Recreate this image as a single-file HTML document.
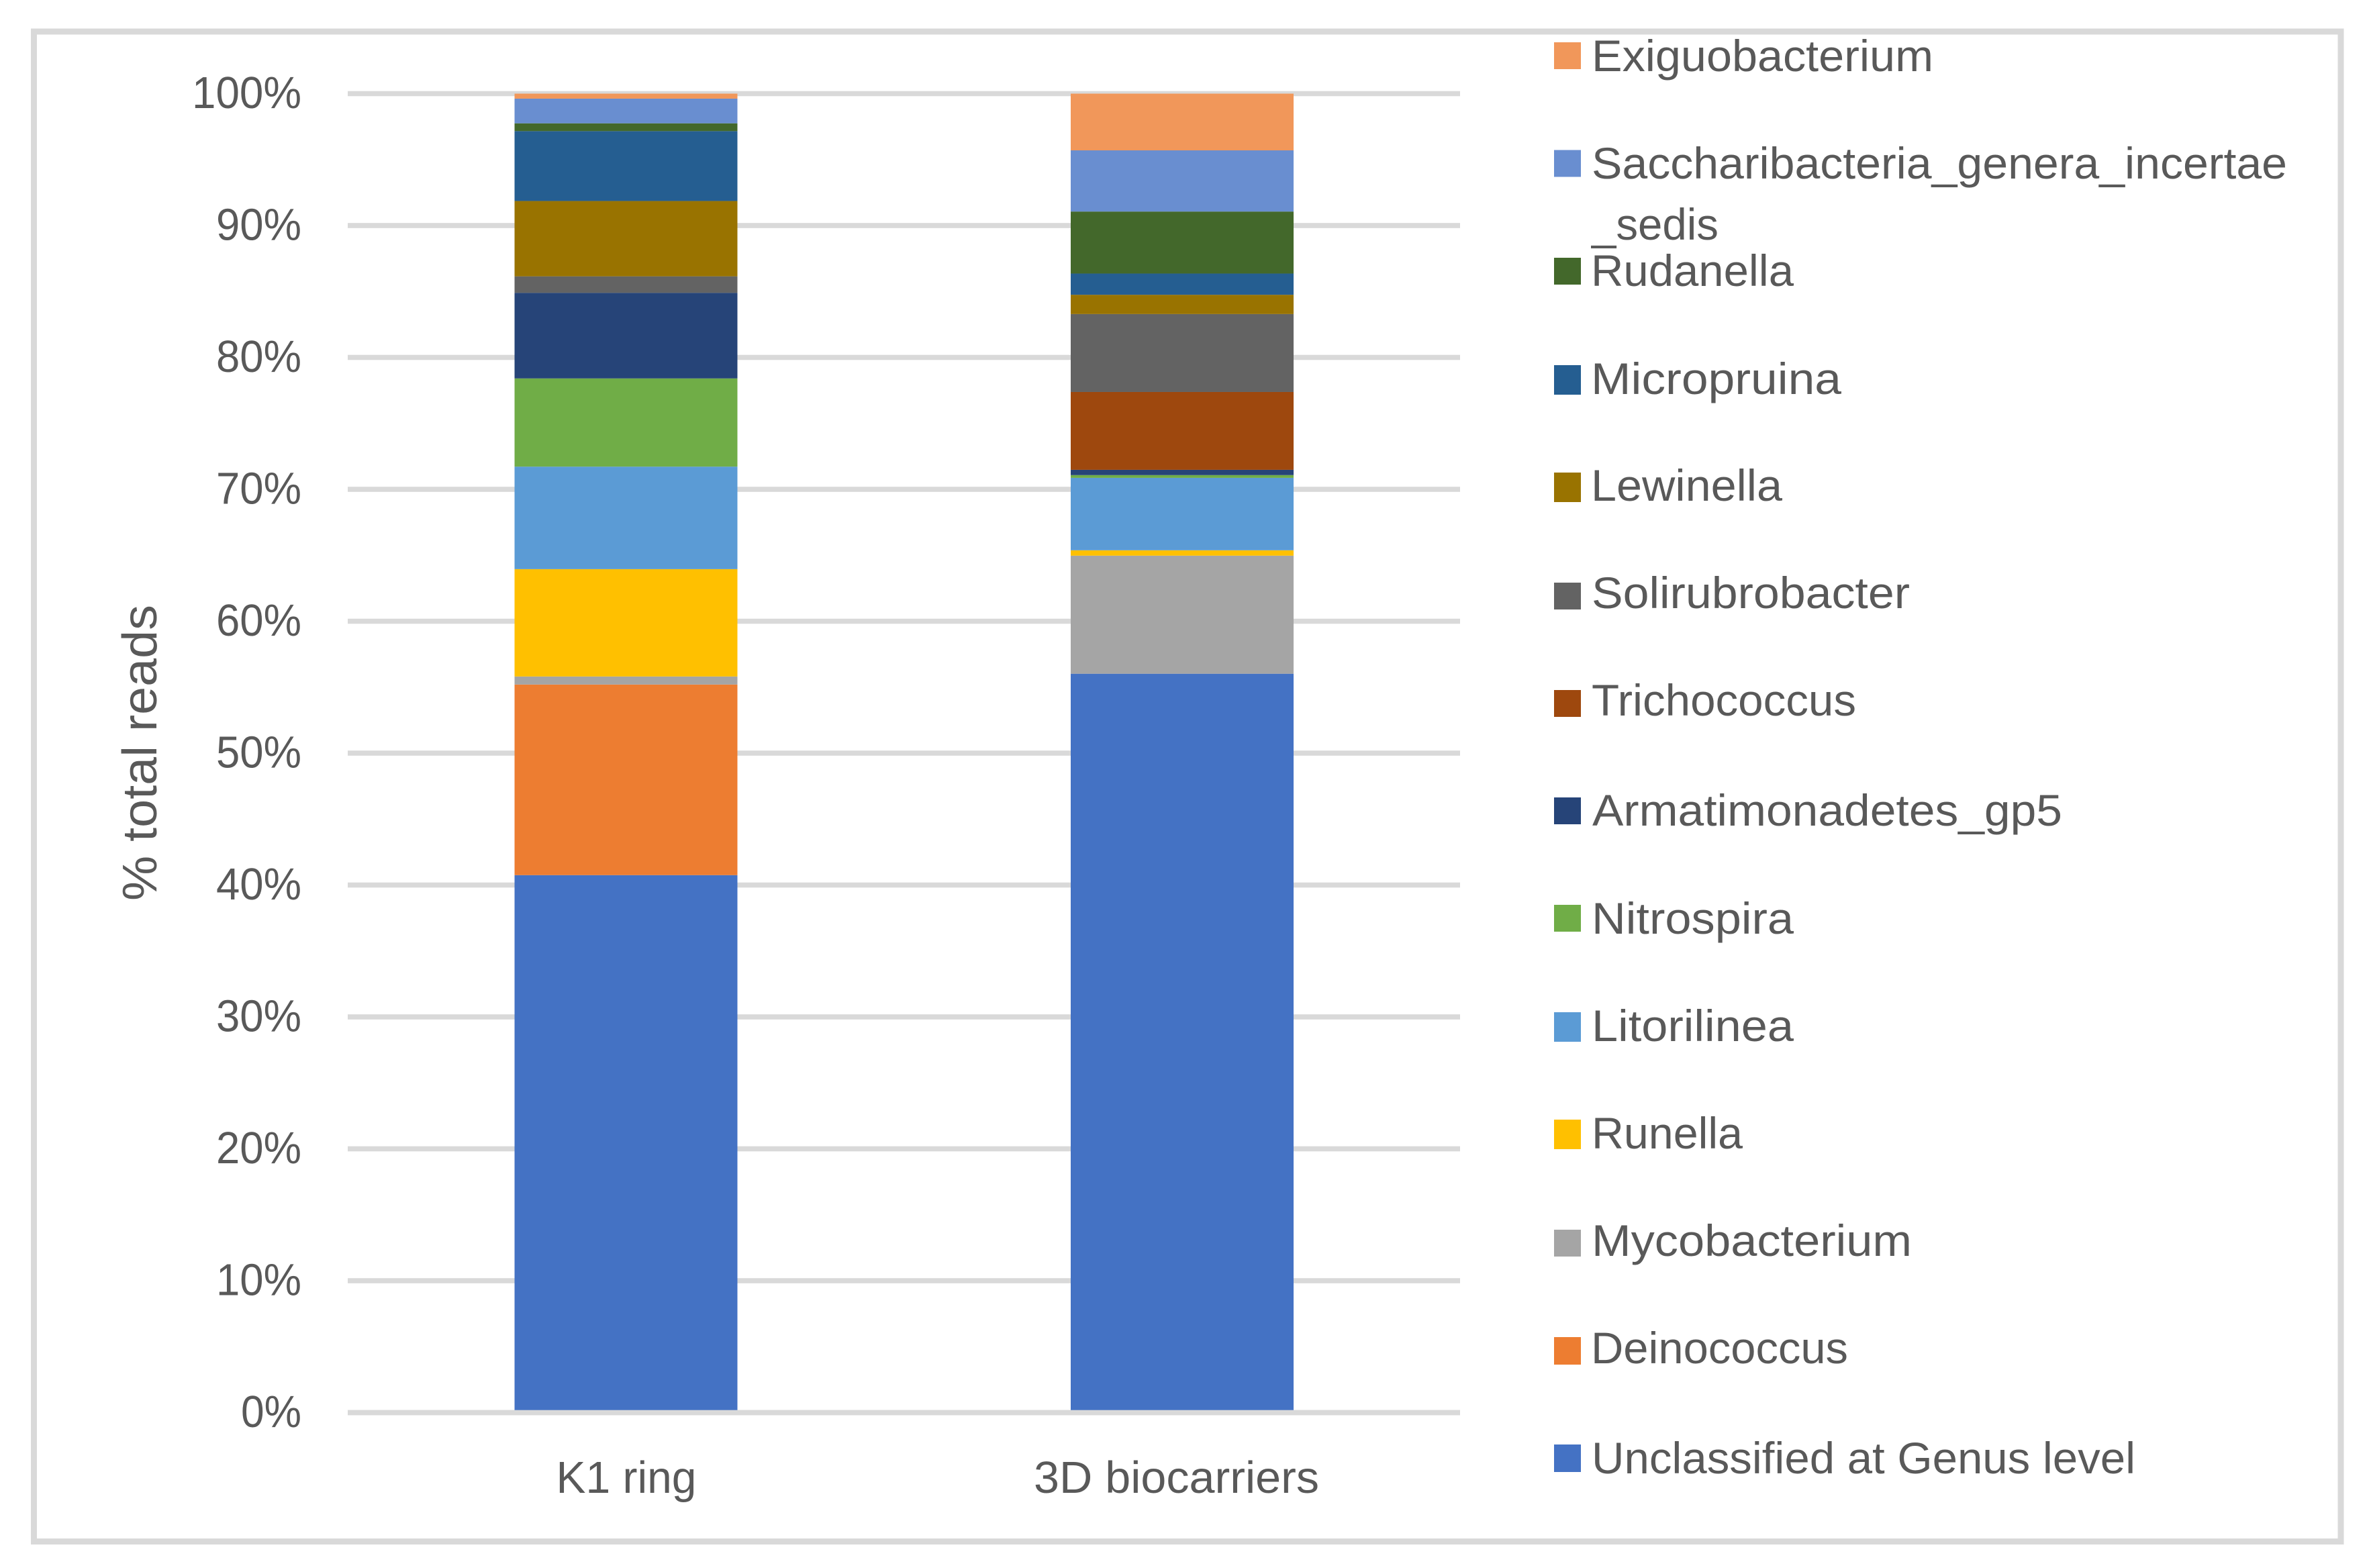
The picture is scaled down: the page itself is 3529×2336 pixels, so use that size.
<!DOCTYPE html>
<html lang="en">
<head>
<meta charset="utf-8">
<title>% total reads by genus: K1 ring vs 3D biocarriers</title>
<style>
  html, body { margin: 0; padding: 0; background: #ffffff; }
  svg { display: block; }
  text { font-family: "Liberation Sans", sans-serif; fill: #595959; }
</style>
</head>
<body>
<svg id="chart" xmlns="http://www.w3.org/2000/svg" width="3529" height="2336" viewBox="0 0 3529 2336">
  <rect x="0" y="0" width="3529" height="2336" fill="#ffffff"/>
  <rect x="50.5" y="47" width="3436.5" height="2249.5" fill="#ffffff" stroke="#d9d9d9" stroke-width="9"/>
  <g id="grid"></g>
  <g id="bars"></g>
  <g id="axis"></g>
  <text transform="translate(233 1342) rotate(-90)" font-size="72" textLength="441" lengthAdjust="spacingAndGlyphs">% total reads</text>

  <g font-size="66">
    <g>
      <rect x="2315" y="63" width="40" height="40" fill="#F1975A"/>
      <text x="2371" y="106" textLength="509" lengthAdjust="spacingAndGlyphs">Exiguobacterium</text>
    </g>
    <g>
      <rect x="2315" y="223.5" width="40" height="40" fill="#698ED0"/>
      <text x="2371" y="266" textLength="1036" lengthAdjust="spacingAndGlyphs">Saccharibacteria_genera_incertae</text>
      <text x="2371" y="357" textLength="189" lengthAdjust="spacingAndGlyphs">_sedis</text>
    </g>
    <g>
      <rect x="2315" y="384" width="40" height="40" fill="#43682B"/>
      <text x="2370" y="426" textLength="302" lengthAdjust="spacingAndGlyphs">Rudanella</text>
    </g>
    <g>
      <rect x="2315" y="544" width="40" height="44" fill="#255E91"/>
      <text x="2370" y="587" textLength="373" lengthAdjust="spacingAndGlyphs">Micropruina</text>
    </g>
    <g>
      <rect x="2315" y="704" width="40" height="44" fill="#997300"/>
      <text x="2370" y="746" textLength="285" lengthAdjust="spacingAndGlyphs">Lewinella</text>
    </g>
    <g>
      <rect x="2315" y="868" width="40" height="40" fill="#636363"/>
      <text x="2371" y="906" textLength="474" lengthAdjust="spacingAndGlyphs">Solirubrobacter</text>
    </g>
    <g>
      <rect x="2315" y="1028" width="40" height="40" fill="#9E480E"/>
      <text x="2371" y="1066" textLength="394" lengthAdjust="spacingAndGlyphs">Trichococcus</text>
    </g>
    <g>
      <rect x="2315" y="1188" width="40" height="40" fill="#264478"/>
      <text x="2372" y="1230" textLength="700" lengthAdjust="spacingAndGlyphs">Armatimonadetes_gp5</text>
    </g>
    <g>
      <rect x="2315" y="1348" width="40" height="40" fill="#70AD47"/>
      <text x="2371" y="1391" textLength="301" lengthAdjust="spacingAndGlyphs">Nitrospira</text>
    </g>
    <g>
      <rect x="2315" y="1508" width="40" height="44" fill="#5B9BD5"/>
      <text x="2371" y="1551" textLength="301" lengthAdjust="spacingAndGlyphs">Litorilinea</text>
    </g>
    <g>
      <rect x="2315" y="1668" width="40" height="44" fill="#FFC000"/>
      <text x="2371" y="1711" textLength="225" lengthAdjust="spacingAndGlyphs">Runella</text>
    </g>
    <g>
      <rect x="2315" y="1832" width="40" height="40" fill="#A5A5A5"/>
      <text x="2371" y="1871" textLength="477" lengthAdjust="spacingAndGlyphs">Mycobacterium</text>
    </g>
    <g>
      <rect x="2315" y="1992" width="40" height="41" fill="#ED7D31"/>
      <text x="2370" y="2031" textLength="383" lengthAdjust="spacingAndGlyphs">Deinococcus</text>
    </g>
    <g>
      <rect x="2315" y="2152" width="40" height="41" fill="#4472C4"/>
      <text x="2371" y="2195" textLength="810" lengthAdjust="spacingAndGlyphs">Unclassified at Genus level</text>
    </g>
  </g>
</svg>
<script>
// Chart data (percent of total reads, stacked bottom to top)
var categories = ['K1 ring', '3D biocarriers'];
var seriesNames = ['Unclassified at Genus level', 'Deinococcus', 'Mycobacterium', 'Runella', 'Litorilinea', 'Nitrospira', 'Armatimonadetes_gp5', 'Trichococcus', 'Solirubrobacter', 'Lewinella', 'Micropruina', 'Rudanella', 'Saccharibacteria_genera_incertae_sedis', 'Exiguobacterium'];
var k1RingValues = [40.75, 14.45, 0.61, 8.14, 7.77, 6.69, 6.49, 0, 1.25, 5.71, 5.30, 0.59, 1.87, 0.38];
var biocarrierValues = [56.02, 0, 8.95, 0.41, 5.49, 0.21, 0.40, 5.90, 5.91, 1.46, 1.61, 4.70, 4.64, 4.30];
var seriesColors = ['#4472C4', '#ED7D31', '#A5A5A5', '#FFC000', '#5B9BD5', '#70AD47', '#264478', '#9E480E', '#636363', '#997300', '#255E91', '#43682B', '#698ED0', '#F1975A'];
var tickValues = [0, 10, 20, 30, 40, 50, 60, 70, 80, 90, 100];
var tickLabels = ['0%', '10%', '20%', '30%', '40%', '50%', '60%', '70%', '80%', '90%', '100%'];

var NS = 'http://www.w3.org/2000/svg';
var gridLayer = document.getElementById('grid');
var barLayer = document.getElementById('bars');
var axisLayer = document.getElementById('axis');

// Axis functions
function yScale(v) {
  var yTop = 139.5, yBottom = 2104.5;
  return yBottom + (yTop - yBottom) * (v / 100);
}
function xBand(i) {
  var firstLeft = 766.5, step = 828.5;
  return firstLeft + i * step;
}
var barWidth = 332;
var plotLeft = 518, plotRight = 2175;

function make(tag, attrs) {
  var el = document.createElementNS(NS, tag);
  for (var k in attrs) { el.setAttribute(k, attrs[k]); }
  return el;
}

// Gridlines and y tick labels
tickValues.forEach(function (v, i) {
  var line = make('rect', { x: plotLeft, y: yScale(v) - 3.8, width: plotRight - plotLeft, height: 7.6, fill: '#d9d9d9' });
  
  
  gridLayer.appendChild(line);

  var label = tickLabels[i];
  var w = label.length === 4 ? 163 : (label.length === 3 ? 127 : 90);
  var t = make('text', { x: 449 - w, y: yScale(v) + 21.5, 'font-size': 67, textLength: w, lengthAdjust: 'spacingAndGlyphs' });
  
  
  t.textContent = label;
  axisLayer.appendChild(t);
});

// Stacked bars
[k1RingValues, biocarrierValues].forEach(function (values, c) {
  var cum = 0;
  values.forEach(function (val, s) {
    var y0 = yScale(cum);
    var y1 = yScale(cum + val);
    cum += val;
    if (val <= 0) { return; }
    var seg = make('rect', { x: xBand(c), y: y1, width: barWidth, height: y0 - y1, fill: seriesColors[s] });
    
    
    var tip = make('title', {});
    tip.textContent = categories[c] + ' / ' + seriesNames[s] + ': ' + val + '%';
    seg.appendChild(tip);
    barLayer.appendChild(seg);
  });
});

// X axis line drawn over the bars
var xAxis = make('rect', { x: plotLeft, y: yScale(0) - 3.8, width: plotRight - plotLeft, height: 7.6, fill: '#d9d9d9' });


axisLayer.appendChild(xAxis);

// Category labels
categories.forEach(function (name, c) {
  var w = name.length > 8 ? 425 : 209;
  var center = c === 0 ? xBand(c) + barWidth / 2 + 0.5 : xBand(c) + barWidth / 2 - 8.5;
  var t = make('text', { x: center - w / 2, y: 2224, 'font-size': 67, textLength: w, lengthAdjust: 'spacingAndGlyphs' });
  
  
  t.textContent = name;
  axisLayer.appendChild(t);
});
</script>
</body>
</html>
